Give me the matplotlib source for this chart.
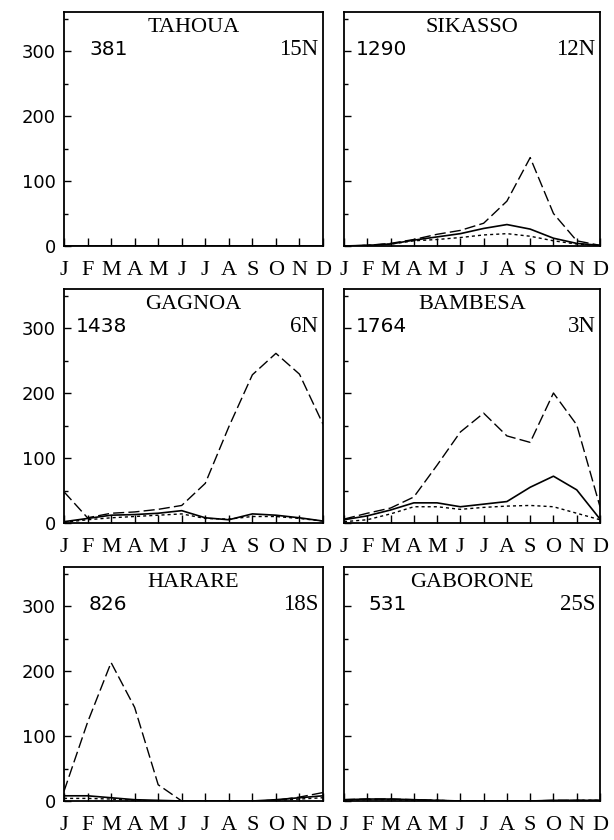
import numpy as np
import matplotlib
matplotlib.use('Agg')
import matplotlib.pyplot as plt
from matplotlib.ticker import MultipleLocator

# 月份标签
months = ['J', 'F', 'M', 'A', 'M', 'J', 'J', 'A', 'S', 'O', 'N', 'D']

# 站点信息 (名称, 年降水, 纬度)
names = ['TAHOUA', 'SIKASSO', 'GAGNOA', 'BAMBESA', 'HARARE', 'GABORONE']
totals = ['381', '1290', '1438', '1764', '826', '531']
lats = ['15N', '12N', '6N', '3N', '18S', '25S']

# 三条曲线: 长虚线 / 实线 / 短虚线
tahoua_dash = [0, 0, 0, 0, 0, 0, 0, 0, 0, 0, 0, 0]
tahoua_solid = [0, 0, 0, 0, 0, 0, 0, 0, 0, 0, 0, 0]
tahoua_dot = [0, 0, 0, 0, 0, 0, 0, 0, 0, 0, 0, 0]

sikasso_dash = [0, 1, 4, 10, 18, 24, 35, 69, 136, 50, 8, 1]
sikasso_solid = [0, 1, 3, 9, 14, 19, 27, 33, 26, 12, 4, 1]
sikasso_dot = [0, 1, 3, 8, 10, 13, 17, 19, 15, 8, 3, 1]

gagnoa_dash = [48, 8, 15, 17, 21, 27, 61, 148, 228, 261, 229, 152]
gagnoa_solid = [2, 7, 12, 13, 15, 19, 8, 5, 14, 12, 8, 3]
gagnoa_dot = [1, 5, 8, 10, 12, 14, 7, 6, 10, 10, 7, 3]

bambesa_dash = [6, 15, 23, 40, 89, 140, 169, 134, 124, 200, 151, 25]
bambesa_solid = [5, 11, 20, 31, 31, 25, 29, 33, 55, 72, 51, 6]
bambesa_dot = [2, 5, 14, 25, 25, 21, 24, 26, 27, 25, 15, 5]

harare_dash = [15, 121, 213, 144, 25, 0, 0, 0, 0, 1, 6, 13]
harare_solid = [8, 8, 5, 2, 1, 0, 0, 0, 0, 2, 5, 8]
harare_dot = [4, 4, 3, 1, 0, 0, 0, 0, 0, 1, 3, 5]

gaborone_dash = [2, 3, 3, 2, 1, 0, 0, 0, 0, 1, 1, 1]
gaborone_solid = [2, 3, 3, 2, 1, 0, 0, 0, 0, 1, 1, 1]
gaborone_dot = [1, 2, 2, 1, 1, 0, 0, 0, 0, 0, 1, 1]

series = [
    (tahoua_dash, tahoua_solid, tahoua_dot),
    (sikasso_dash, sikasso_solid, sikasso_dot),
    (gagnoa_dash, gagnoa_solid, gagnoa_dot),
    (bambesa_dash, bambesa_solid, bambesa_dot),
    (harare_dash, harare_solid, harare_dot),
    (gaborone_dash, gaborone_solid, gaborone_dot),
]

SERIF = ['Liberation Serif', 'DejaVu Serif']
SANS = ['DejaVu Sans']

fig = plt.figure(figsize=(6.14, 8.40), dpi=100)

W, H = 614.0, 840.0
lefts = [64, 344]
widths = [259, 256]
tops = [12, 289, 567]
ax_h = 234

x = np.arange(12)

for i, name in enumerate(names):
    row, col = divmod(i, 2)
    ax = fig.add_axes([lefts[col] / W, 1 - (tops[row] + ax_h) / H,
                       widths[col] / W, ax_h / H])
    dash, solid, dot = series[i]
    ax.plot(x, dash, color='black', lw=1.0, dashes=(8, 3))
    ax.plot(x, solid, color='black', lw=1.2)
    ax.plot(x, dot, color='black', lw=1.0, dashes=(2.2, 2.2))

    ax.set_xlim(0, 11)
    ax.set_ylim(0, 360)
    ax.set_xticks(x)
    ax.set_xticklabels(months, fontfamily=SERIF, fontsize=16)
    ax.yaxis.set_major_locator(MultipleLocator(100))
    ax.yaxis.set_minor_locator(MultipleLocator(50))
    ax.tick_params(axis='x', direction='in', length=6, width=1.0, pad=10.5)
    ax.tick_params(axis='y', which='major', direction='in', length=5, width=1.0)
    ax.tick_params(axis='y', which='minor', direction='in', length=3, width=1.0)
    if col == 0:
        ax.set_yticks([0, 100, 200, 300])
        ax.set_yticklabels(['0', '100', '200', '300'], fontfamily=SANS, fontsize=13)
        ax.tick_params(axis='y', pad=6)
    else:
        ax.set_yticklabels([])
    for sp in ax.spines.values():
        sp.set_linewidth(1.3)

    ax.text(0.5, 0.9145, name, transform=ax.transAxes, ha='center',
            va='baseline', fontfamily=SERIF, fontsize=16)
    ax.text(0.245, 0.816, totals[i], transform=ax.transAxes, ha='right',
            va='baseline', fontfamily=SANS, fontsize=14.5)
    ax.text(0.982, 0.816, lats[i], transform=ax.transAxes, ha='right',
            va='baseline', fontfamily=SERIF, fontsize=16.5)

fig.savefig('out.png', dpi=100)
